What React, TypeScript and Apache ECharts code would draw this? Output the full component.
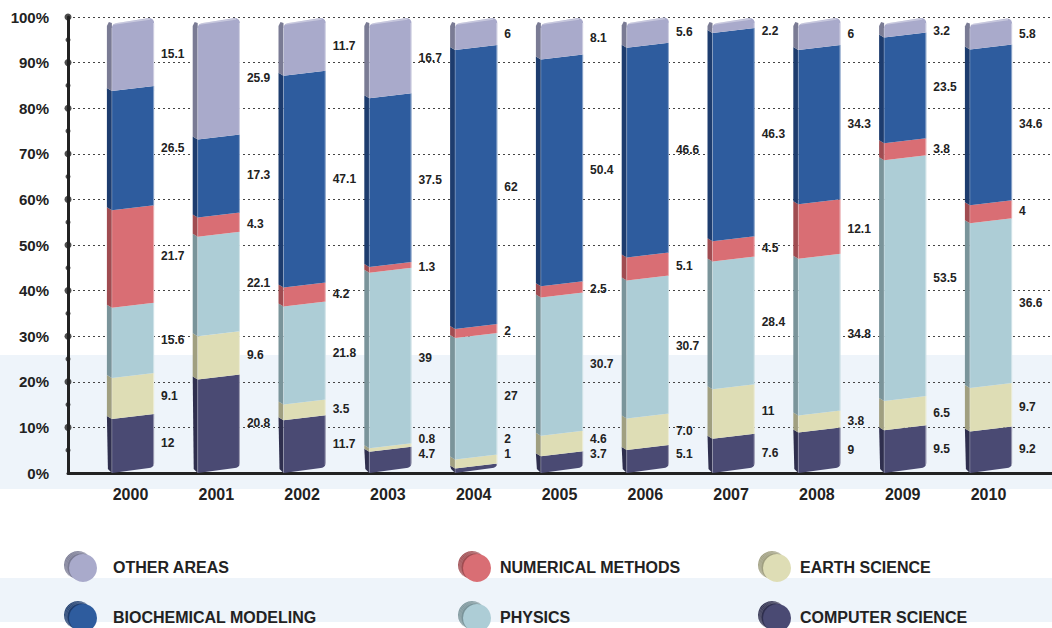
import React, { useEffect, useRef } from 'react';
import * as echarts from 'echarts';

// Share of work per research area, per year (percent, as printed on the chart)
const years = ['2000', '2001', '2002', '2003', '2004', '2005', '2006', '2007', '2008', '2009', '2010'];
const computerScience = ['12', '20.8', '11.7', '4.7', '1', '3.7', '5.1', '7.6', '9', '9.5', '9.2'];
const earthScience = ['9.1', '9.6', '3.5', '0.8', '2', '4.6', '7.0', '11', '3.8', '6.5', '9.7'];
const physics = ['15.6', '22.1', '21.8', '39', '27', '30.7', '30.7', '28.4', '34.8', '53.5', '36.6'];
const numericalMethods = ['21.7', '4.3', '4.2', '1.3', '2', '2.5', '5.1', '4.5', '12.1', '3.8', '4'];
const biochemicalModeling = ['26.5', '17.3', '47.1', '37.5', '62', '50.4', '46.6', '46.3', '34.3', '23.5', '34.6'];
const otherAreas = ['15.1', '25.9', '11.7', '16.7', '6', '8.1', '5.6', '2.2', '6', '3.2', '5.8'];

const majorTicks = [10, 20, 30, 40, 50, 60, 70, 80, 90, 100];
const minorTicks = [5, 15, 25, 35, 45, 55, 65, 75, 85, 95];

const FONT = '"Liberation Sans", Arial, Helvetica, sans-serif';
const INK = '#222222';
const BAND = '#EEF4FA';

// Stack order, bottom to top
const layers = [
  { name: 'COMPUTER SCIENCE', values: computerScience, face: '#4A4A73', side: '#2F2F4E' },
  { name: 'EARTH SCIENCE', values: earthScience, face: '#DEDDB5', side: '#A09F80' },
  { name: 'PHYSICS', values: physics, face: '#ADCDD6', side: '#7A949A' },
  { name: 'NUMERICAL METHODS', values: numericalMethods, face: '#D96E74', side: '#A04C51' },
  { name: 'BIOCHEMICAL MODELING', values: biochemicalModeling, face: '#2E5C9E', side: '#1D3C6E' },
  { name: 'OTHER AREAS', values: otherAreas, face: '#A9AACB', side: '#7A7B94' },
];

// Legend grid: three columns, two rows
const legendOrder = ['OTHER AREAS', 'NUMERICAL METHODS', 'EARTH SCIENCE', 'BIOCHEMICAL MODELING', 'PHYSICS', 'COMPUTER SCIENCE'];

const LABEL_GAP = 3.4; // minimum distance between value labels, in percent units
const LABEL_MIN = 3.5;
const LABEL_MAX = 97.5;

// Segment extents and label anchors for every bar
const stacks = years.map((_, i) => {
  let acc = 0;
  const segs = layers.map((l) => {
    const v = Number(l.values[i]);
    const s = { lo: acc, hi: acc + v };
    acc += v;
    return s;
  });
  const pos: number[] = [];
  let prev = -Infinity;
  segs.forEach((s) => {
    const p = Math.max((s.lo + s.hi) / 2, LABEL_MIN, prev + LABEL_GAP);
    pos.push(p);
    prev = p;
  });
  let next = Infinity;
  for (let k = pos.length - 1; k >= 0; k--) {
    const p = Math.min(pos[k], LABEL_MAX, next - LABEL_GAP);
    pos[k] = p;
    next = p;
  }
  return { segs, pos };
});

function arcPoints(cx: number, cy: number, r: number, a0: number, a1: number, n = 5) {
  const pts: number[][] = [];
  for (let j = 0; j <= n; j++) {
    const a = a0 + ((a1 - a0) * j) / n;
    pts.push([cx + r * Math.cos(a), cy + r * Math.sin(a)]);
  }
  return pts;
}

function makeRenderItem(layerIndex: number) {
  const layer = layers[layerIndex];
  const isTop = layerIndex === layers.length - 1;
  const isBottom = layerIndex === 0;
  return (params: any, api: any) => {
    const idx = api.value(0);
    const lo = api.value(1);
    const hi = api.value(2);
    const lp = api.value(3);
    const pLo = api.coord([idx, lo]);
    const pHi = api.coord([idx, hi]);
    const band = api.size([1, 0])[0];
    const half = band * 0.275;
    const cx = pLo[0];
    const xL = cx - half;
    const xR = cx + half;
    const xF = xL + 5;
    const yT = pHi[1];
    const yB = pLo[1];
    const r = 5;

    // front face
    const front: number[][] = [];
    if (isTop) {
      front.push([xF, yT + 3 + r]);
      front.push(...arcPoints(xF + r, yT + 3 + r, r, Math.PI, Math.PI * 1.5));
      front.push(...arcPoints(xR - r, yT - 2 + r, r, Math.PI * 1.5, Math.PI * 2));
    } else {
      front.push([xF, yT + 3], [xR, yT - 2]);
    }
    if (isBottom) {
      front.push(...arcPoints(xR - r, yB - 2 - r, r, 0, Math.PI * 0.5));
      front.push([xF, yB + 3]);
    } else {
      front.push([xR, yB - 2], [xF, yB + 3]);
    }

    // left face
    const side: number[][] = isTop
      ? [[xL, yT + 6], [xL + 2, yT + 2], [xF, yT + 3], [xF, yB + 3], [xL, yB]]
      : [[xL, yT], [xF, yT + 3], [xF, yB + 3], [xL, yB]];
    if (isBottom) {
      side[side.length - 1] = [xL + 1, yB - 1];
    }

    const children: any[] = [
      { type: 'polygon', shape: { points: side }, style: { fill: layer.side } },
      { type: 'polygon', shape: { points: front }, style: { fill: layer.face } },
      {
        type: 'line',
        shape: { x1: xR - 0.5, y1: yT + (isTop ? 3 : -2), x2: xR - 0.5, y2: yB - (isBottom ? 5 : 2) },
        style: { stroke: 'rgba(255,255,255,0.45)', lineWidth: 1 },
      },
      {
        type: 'line',
        shape: { x1: xF, y1: yT + (isTop ? 8 : 3), x2: xF, y2: yB + 3 },
        style: { stroke: 'rgba(255,255,255,0.25)', lineWidth: 1 },
      },
    ];
    if (isTop) {
      // bevelled rim of the cap
      children.push({
        type: 'polyline',
        shape: { points: [[xF + 2, yT + 4], [xR - 4, yT - 1]] },
        style: { stroke: 'rgba(255,255,255,0.35)', lineWidth: 1.5, fill: null },
      });
    }
    const ly = api.coord([idx, lp])[1];
    children.push({
      type: 'text',
      x: xR + 7,
      y: ly,
      style: {
        text: layer.values[idx],
        fill: INK,
        font: `bold 12px ${FONT}`,
        textAlign: 'left',
        textVerticalAlign: 'middle',
        align: 'left',
        verticalAlign: 'middle',
      },
    });
    return { type: 'group', children };
  };
}

function legendGraphics() {
  const colX = [81, 475, 775];
  const textX = [113, 500, 800];
  const rowY = [567, 617];
  const els: any[] = [];
  legendOrder.forEach((name, k) => {
    const layer = layers.find((l) => l.name === name)!;
    const c = k % 3;
    const row = Math.floor(k / 3);
    const x = colX[c];
    const y = rowY[row];
    els.push({ type: 'circle', shape: { cx: x - 3, cy: y - 2, r: 14 }, style: { fill: layer.side }, z: 10 });
    for (let j = 1; j <= 3; j++) {
      els.push({
        type: 'circle',
        shape: { cx: x - 3 + j, cy: y - 2 + j * 0.7, r: 14 },
        style: { fill: null, stroke: 'rgba(255,255,255,0.3)', lineWidth: 0.6 },
        z: 11,
      });
    }
    els.push({ type: 'circle', shape: { cx: x + 2, cy: y + 1, r: 14 }, style: { fill: layer.face }, z: 12 });
    els.push({
      type: 'text',
      x: textX[c],
      y: y,
      style: {
        text: name,
        fill: INK,
        font: `bold 16px ${FONT}`,
        textAlign: 'left',
        textVerticalAlign: 'middle',
        align: 'left',
        verticalAlign: 'middle',
      },
      z: 12,
    });
  });
  return els;
}

export default function App() {
  const ref = useRef<HTMLDivElement>(null);
  useEffect(() => {
    if (!ref.current) return;
    const chart = echarts.init(ref.current, undefined, { renderer: 'svg' });

    const barSeries = layers.map((layer, k) => ({
      type: 'custom',
      name: layer.name,
      xAxisIndex: 1,
      yAxisIndex: 1,
      renderItem: makeRenderItem(k),
      encode: { x: 0, y: [1, 2] },
      data: years.map((_, i) => [i, stacks[i].segs[k].lo, stacks[i].segs[k].hi, stacks[i].pos[k]]),
      z: 5,
    }));

    chart.setOption({
      animation: false,
      backgroundColor: '#ffffff',
      textStyle: { fontFamily: FONT },
      graphic: [
        { type: 'rect', shape: { x: 0, y: 355, width: 1052, height: 134 }, style: { fill: BAND }, z: -100 },
        { type: 'rect', shape: { x: 0, y: 578, width: 1052, height: 44 }, style: { fill: BAND }, z: -100 },
        ...legendGraphics(),
      ],
      grid: [
        { left: 68, right: 0, top: 17, bottom: 155 },
        { left: 87.6, right: 20.6, top: 20, bottom: 158 },
      ],
      xAxis: [
        {
          type: 'value',
          gridIndex: 0,
          min: 0,
          max: 1,
          axisLine: { show: true, onZero: false, lineStyle: { color: INK, width: 3 } },
          axisTick: { show: false },
          axisLabel: { show: false },
          splitLine: { show: false },
        },
        {
          type: 'category',
          gridIndex: 1,
          data: years,
          axisLine: { show: false },
          axisTick: { show: false },
          axisLabel: { fontSize: 16, fontWeight: 'bold', color: INK, margin: 16, fontFamily: FONT },
        },
      ],
      yAxis: [
        {
          type: 'value',
          gridIndex: 0,
          min: 0,
          max: 100,
          interval: 10,
          axisLine: { show: true, lineStyle: { color: INK, width: 3 } },
          axisTick: { show: false },
          axisLabel: {
            formatter: '{value}%',
            fontSize: 15,
            fontWeight: 'bold',
            color: INK,
            margin: 19,
            fontFamily: FONT,
          },
          splitLine: { show: true, lineStyle: { color: '#444', width: 1, type: [2, 3] } },
        },
        { type: 'value', gridIndex: 1, min: 0, max: 100, show: false },
      ],
      series: [
        ...barSeries,
        {
          type: 'scatter',
          xAxisIndex: 0,
          yAxisIndex: 0,
          symbolSize: 7,
          itemStyle: { color: INK },
          data: majorTicks.map((v) => [0, v]),
          clip: false,
          silent: true,
          z: 6,
        },
        {
          type: 'scatter',
          xAxisIndex: 0,
          yAxisIndex: 0,
          symbolSize: 5,
          itemStyle: { color: INK },
          data: minorTicks.map((v) => [0, v]),
          clip: false,
          silent: true,
          z: 6,
        },
      ],
    });
    return () => chart.dispose();
  }, []);

  return (
    <div
      ref={ref}
      style={{ position: 'absolute', left: 0, top: 0, width: 1052, height: 628 }}
    />
  );
}
